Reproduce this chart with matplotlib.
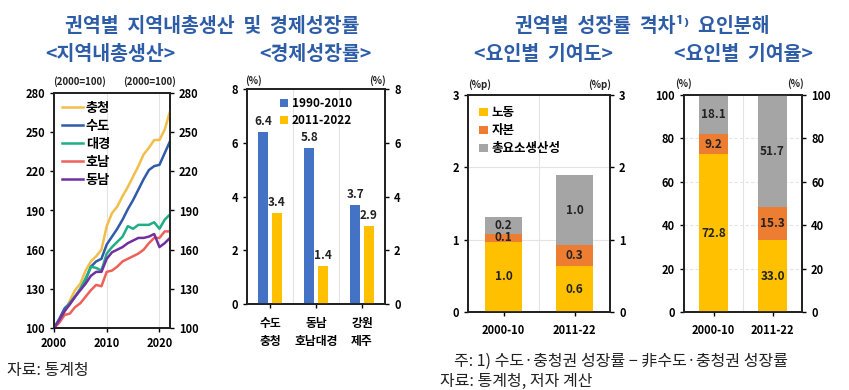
import matplotlib
matplotlib.use("Agg")
import matplotlib.pyplot as plt
import numpy as np

plt.rcParams['font.family'] = ['Noto Sans CJK KR', 'DejaVu Sans']
plt.rcParams['font.weight'] = 'bold'
plt.rcParams['axes.unicode_minus'] = False

# ---------- data ----------
years = list(range(2000, 2023))
chungcheong = [100, 106, 112, 121, 129, 134, 144, 151, 155, 160, 178, 188, 193, 201, 208, 216, 224, 233, 238, 244, 244, 252, 266]
sudo = [100, 107, 115, 119, 124, 130, 137, 147, 151, 153, 164, 170, 176, 183, 191, 198, 206, 214, 221, 224, 225, 234, 243]
daegyeong = [100, 106, 113, 119, 124, 130, 138, 147, 146, 144, 157, 162, 166, 170, 178, 176, 179, 179, 179, 181, 176, 183, 187]
honam = [100, 104, 110, 111, 116, 119, 124, 129, 133, 132, 143, 144, 147, 151, 153, 155, 157, 160, 165, 169, 169, 174, 174]
dongnam = [100, 106, 113, 118, 124, 129, 134, 140, 143, 143, 153, 158, 160, 162, 165, 167, 169, 169, 170, 172, 162, 165, 169]
line_names = ['충청', '수도', '대경', '호남', '동남']

growth_cats = ['수도\n충청', '동남\n호남대경', '강원\n제주']
growth_1990_2010 = [6.4, 5.8, 3.7]
growth_2011_2022 = [3.4, 1.4, 2.9]
growth_series = ['1990-2010', '2011-2022']

period_cats = ['2000-10', '2011-22']
factor_names = ['노동', '자본', '총요소생산성']
contrib_labor = [0.97, 0.63]
contrib_capital = [0.11, 0.29]
contrib_tfp = [0.24, 0.98]
share_labor = [72.8, 33.0]
share_capital = [9.2, 15.3]
share_tfp = [18.1, 51.7]

# ---------- style ----------
BLUE_T = '#2E5DA8'
c_lines = ['#F2BE4A', '#2F5BAA', '#1FAE86', '#F0605A', '#7030A0']
c_blue = '#4472C4'
c_yel = '#FFC000'
c_org = '#ED7D31'
c_gry = '#A5A5A5'
W, H = 849, 390

fig = plt.figure(figsize=(8.49, 3.9), dpi=100)

def add_ax(l, r, t, b):
    return fig.add_axes([l / W, 1 - b / H, (r - l) / W, (b - t) / H])

def style(ax, fs=8):
    for s in ax.spines.values():
        s.set_linewidth(1.3)
        s.set_color('#222222')
    ax.tick_params(axis='both', labelsize=fs, length=3, width=1, direction='out')
    for lab in ax.get_xticklabels() + ax.get_yticklabels():
        lab.set_fontweight('bold')

def twin_right(ax, ticks, fs=8):
    ax2 = ax.twinx()
    ax2.set_ylim(ax.get_ylim())
    ax2.set_yticks(ticks)
    ax2.tick_params(axis='y', labelsize=fs, length=3, width=1)
    for lab in ax2.get_yticklabels():
        lab.set_fontweight('bold')
    for s in ax2.spines.values():
        s.set_linewidth(1.3)
        s.set_color('#222222')
    return ax2

grid_kw = dict(color='#E4E4E4', linewidth=0.8, zorder=0)

# ---------- panel 1: lines ----------
ax1 = add_ax(54, 170, 93, 328)
for vals, c, n in zip([chungcheong, sudo, daegyeong, honam, dongnam], c_lines, line_names):
    ax1.plot(years, vals, color=c, linewidth=1.8, label=n, zorder=3)
ax1.set_xlim(2000, 2022)
ax1.set_ylim(100, 280)
ax1.set_yticks([100, 130, 160, 190, 220, 250, 280])
ax1.set_xticks([2000, 2010, 2020])
ax1.xaxis.grid(True, **grid_kw)
ax1.set_axisbelow(True)
style(ax1)
twin_right(ax1, [100, 130, 160, 190, 220, 250, 280])
leg = ax1.legend(loc='upper left', frameon=False, fontsize=9.5, handlelength=1.6,
                 handletextpad=0.2, labelspacing=0.3, borderaxespad=0.2)
for t in leg.get_texts():
    t.set_fontweight('bold')

# ---------- panel 2: grouped bars ----------
ax2 = add_ax(247, 385, 89, 304)
x = np.arange(len(growth_cats))
off, bw = 0.145, 0.22
b1 = ax2.bar(x - off, growth_1990_2010, bw, color=c_blue, label=growth_series[0], zorder=3)
b2 = ax2.bar(x + off, growth_2011_2022, bw, color=c_yel, label=growth_series[1], zorder=3)
for bars in (b1, b2):
    for r in bars:
        ax2.text(r.get_x() + r.get_width() / 2, r.get_height() + 0.15, f'{r.get_height():.1f}',
                 ha='center', va='bottom', fontsize=8.5, fontweight='bold', color='#222222')
ax2.set_xlim(-0.5, 2.5)
ax2.set_ylim(0, 8)
ax2.set_yticks([0, 2, 4, 6, 8])
ax2.set_xticks(x)
ax2.set_xticklabels(growth_cats, linespacing=1.6)
for xv in [0.5, 1.5]:
    ax2.axvline(xv, **grid_kw)
ax2.tick_params(axis='x', length=0, pad=6)
style(ax2)
for lab in ax2.get_xticklabels():
    lab.set_fontsize(8.5)
twin_right(ax2, [0, 2, 4, 6, 8])
leg = ax2.legend(loc='upper center', frameon=False, fontsize=8.5, handlelength=0.7, handleheight=0.7,
                 handletextpad=0.3, labelspacing=0.3, borderaxespad=0.3)
for t in leg.get_texts():
    t.set_fontweight('bold')

# ---------- panel 3: stacked contributions ----------
def stacked(ax, labor, cap, tfp, width, fmt):
    xs = np.arange(len(period_cats))
    bl = ax.bar(xs, labor, width, color=c_yel, label=factor_names[0], zorder=3)
    bc = ax.bar(xs, cap, width, bottom=labor, color=c_org, label=factor_names[1], zorder=3)
    bot2 = np.array(labor) + np.array(cap)
    bt = ax.bar(xs, tfp, width, bottom=bot2, color=c_gry, label=factor_names[2], zorder=3)
    for bars in (bl, bc, bt):
        for r in bars:
            ax.text(r.get_x() + r.get_width() / 2, r.get_y() + r.get_height() / 2,
                    fmt.format(r.get_height()), ha='center', va='center',
                    fontsize=8.5, fontweight='bold', color='#222222', zorder=4)
    ax.set_xticks(xs)
    ax.set_xticklabels(period_cats)
    ax.set_xlim(-0.5, 1.5)
    ax.axvline(0.5, **grid_kw)
    ax.tick_params(axis='x', length=0, pad=6)

ax3 = add_ax(468, 610, 95, 312)
stacked(ax3, contrib_labor, contrib_capital, contrib_tfp, 0.52, '{:.1f}')
ax3.set_ylim(0, 3)
ax3.set_yticks([0, 1, 2, 3])
for yv in [1, 2]:
    ax3.axhline(yv, **grid_kw)
style(ax3)
twin_right(ax3, [0, 1, 2, 3])
leg = ax3.legend(loc='upper left', frameon=False, fontsize=9, handlelength=0.7, handleheight=0.7,
                 handletextpad=0.3, labelspacing=0.4, borderaxespad=0.5)
for t in leg.get_texts():
    t.set_fontweight('bold')

# ---------- panel 4: stacked shares ----------
ax4 = add_ax(684, 802, 95, 312)
stacked(ax4, share_labor, share_capital, share_tfp, 0.49, '{:.1f}')
ax4.set_ylim(0, 100)
ax4.set_yticks([0, 20, 40, 60, 80, 100])
for yv in [20, 40, 60, 80]:
    ax4.axhline(yv, color='#E4E4E4', linewidth=0.8, linestyle=(0, (3, 2)), zorder=0)
style(ax4)
twin_right(ax4, [0, 20, 40, 60, 80, 100])

# ---------- text ----------
def ftext(px, py, s, **kw):
    fig.text(px / W, 1 - py / H, s, **kw)

tkw = dict(ha='center', va='center', color=BLUE_T, fontweight='bold', fontsize=14)
ftext(212, 27, '권역별  지역내총생산  및  경제성장률', **tkw)
ftext(110, 55, '<지역내총생산>', **tkw)
ftext(315, 55, '<경제성장률>', **tkw)
ftext(642, 27, '권역별  성장률  격차¹⁾  요인분해', **tkw)
ftext(543, 55, '<요인별  기여도>', **tkw)
ftext(744, 55, '<요인별  기여율>', **tkw)

ukw = dict(ha='center', va='center', fontsize=7, fontweight='bold', color='#222222')
ftext(80, 82, '(2000=100)', **ukw)
ftext(150, 82, '(2000=100)', **ukw)
ftext(254, 81, '(%)', **ukw)
ftext(377, 81, '(%)', **ukw)
ftext(480, 85, '(%p)', **ukw)
ftext(600, 85, '(%p)', **ukw)
ftext(684, 84, '(%)', **ukw)
ftext(796, 84, '(%)', **ukw)

nkw = dict(ha='left', va='center', fontsize=11.5, fontweight='normal', color='#222222')
ftext(7, 370, '자료: 통계청', **nkw)
ftext(454, 361, '주: 1) 수도·충청권 성장률 − 非수도·충청권 성장률', **nkw)
ftext(440, 381, '자료: 통계청, 저자 계산', **nkw)

fig.savefig('out.png', dpi=100)
